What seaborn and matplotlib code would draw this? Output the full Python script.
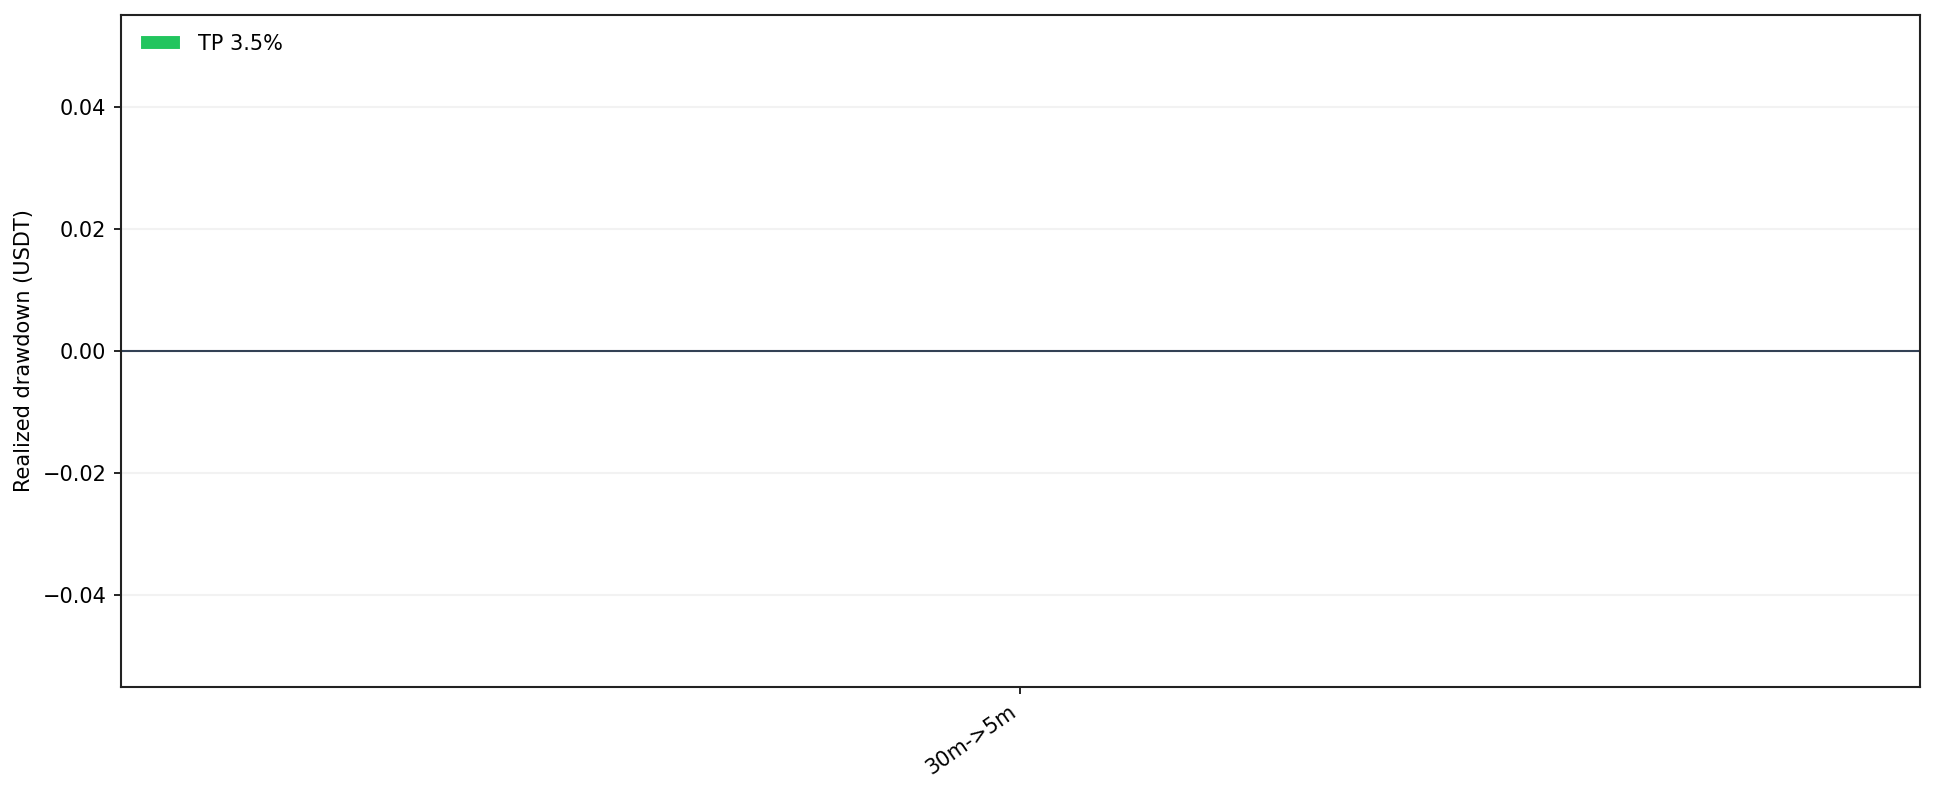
"""Realized drawdown per timeframe pair."""
import matplotlib
matplotlib.use("Agg")
import matplotlib.pyplot as plt
import pandas as pd
import seaborn as sns

# Data
pairs = ["30m->5m"]
tp_labels = ["TP 3.5%"]
drawdown = [0.0]
palette = {"TP 3.5%": "#22c55e"}

df = pd.DataFrame({"pair": pairs, "tp": tp_labels, "drawdown": drawdown})

sns.set_theme(style="ticks", rc={
    "text.color": "black",
    "axes.labelcolor": "black",
    "xtick.color": "black",
    "ytick.color": "black",
    "xtick.major.size": 3.5,
    "ytick.major.size": 3.5,
    "xtick.major.width": 0.8,
    "ytick.major.width": 0.8,
    "axes.edgecolor": "#222222",
    "axes.linewidth": 1.0,
})
plt.rcParams["font.family"] = ["DejaVu Sans"]

fig, ax = plt.subplots(figsize=(12.9, 5.3), dpi=150)
sns.barplot(data=df, x="pair", y="drawdown", hue="tp", palette=palette,
            saturation=1, ax=ax)

ax.axhline(0, color="#334155", linewidth=1)
ax.set_ylim(-0.055, 0.055)
ax.grid(axis="y", alpha=0.25)
ax.set_axisbelow(True)
ax.set_xlabel("")
ax.set_ylabel("Realized drawdown (USDT)", fontsize=10, labelpad=4)
ax.tick_params(labelsize=10)
plt.setp(ax.get_xticklabels(), rotation=35, ha="right")

ax.legend(loc="upper left", frameon=False, fontsize=10, handleheight=0.7)

fig.subplots_adjust(left=0.0625, right=0.992, top=0.981, bottom=0.136)
fig.savefig("out.png", dpi=150)
